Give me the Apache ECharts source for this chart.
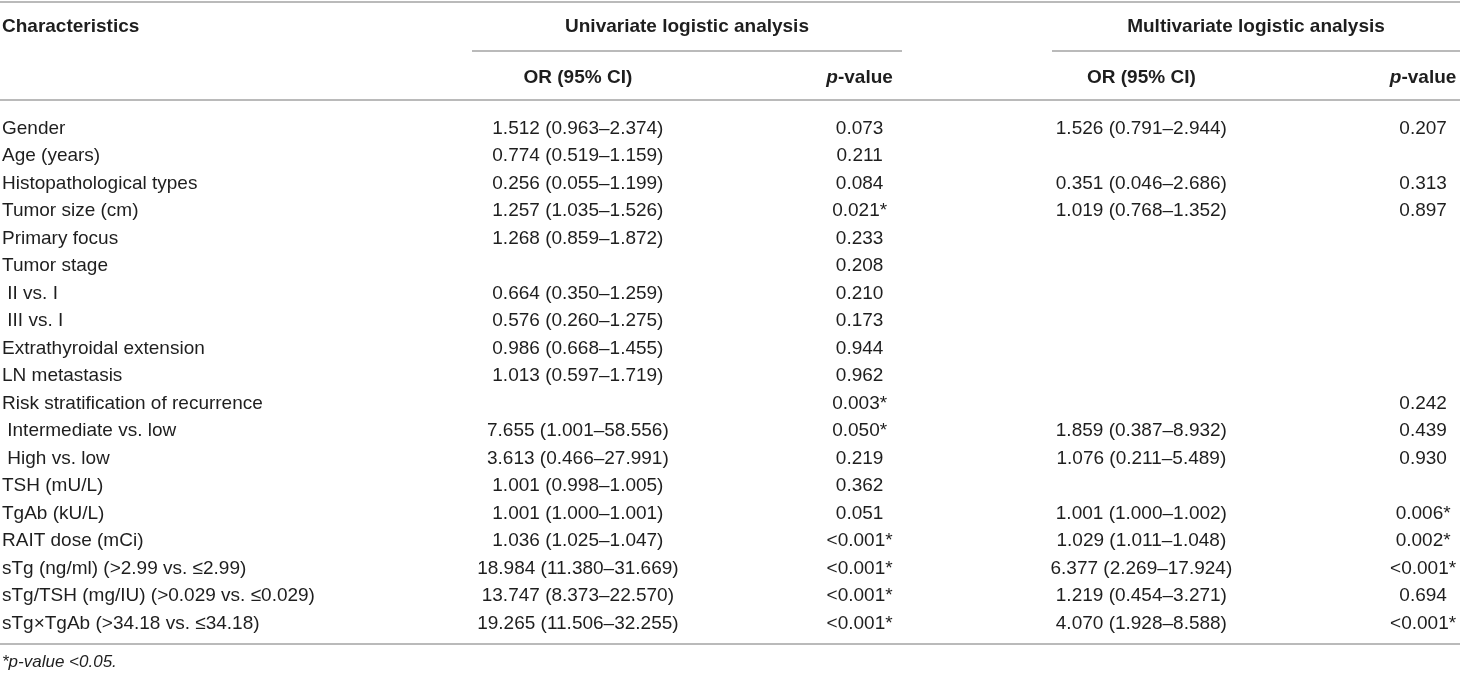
<!DOCTYPE html>
<html>
<head>
<meta charset="utf-8">
<script src="https://cdn.jsdelivr.net/npm/echarts@6/dist/echarts.min.js"></script>
<style>
  html, body { margin: 0; padding: 0; background: #fff; }
  #chart { width: 1460px; height: 675px; }
</style>
</head>
<body>
<div id="chart"></div>
<script>
// table content
const characteristics = [
  'Gender', 'Age (years)', 'Histopathological types', 'Tumor size (cm)', 'Primary focus',
  'Tumor stage', ' II vs. I', ' III vs. I', 'Extrathyroidal extension', 'LN metastasis',
  'Risk stratification of recurrence', ' Intermediate vs. low', ' High vs. low', 'TSH (mU/L)',
  'TgAb (kU/L)', 'RAIT dose (mCi)', 'sTg (ng/ml) (>2.99 vs. \u22642.99)',
  'sTg/TSH (mg/IU) (>0.029 vs. \u22640.029)', 'sTg\u00d7TgAb (>34.18 vs. \u226434.18)'
];
const uniOR = [
  '1.512 (0.963\u20132.374)', '0.774 (0.519\u20131.159)', '0.256 (0.055\u20131.199)', '1.257 (1.035\u20131.526)',
  '1.268 (0.859\u20131.872)', '', '0.664 (0.350\u20131.259)', '0.576 (0.260\u20131.275)',
  '0.986 (0.668\u20131.455)', '1.013 (0.597\u20131.719)', '', '7.655 (1.001\u201358.556)',
  '3.613 (0.466\u201327.991)', '1.001 (0.998\u20131.005)', '1.001 (1.000\u20131.001)', '1.036 (1.025\u20131.047)',
  '18.984 (11.380\u201331.669)', '13.747 (8.373\u201322.570)', '19.265 (11.506\u201332.255)'
];
const uniP = [
  '0.073', '0.211', '0.084', '0.021*', '0.233', '0.208', '0.210', '0.173', '0.944', '0.962',
  '0.003*', '0.050*', '0.219', '0.362', '0.051', '<0.001*', '<0.001*', '<0.001*', '<0.001*'
];
const multiOR = [
  '1.526 (0.791\u20132.944)', '', '0.351 (0.046\u20132.686)', '1.019 (0.768\u20131.352)', '',
  '', '', '', '', '', '', '1.859 (0.387\u20138.932)', '1.076 (0.211\u20135.489)', '',
  '1.001 (1.000\u20131.002)', '1.029 (1.011\u20131.048)', '6.377 (2.269\u201317.924)',
  '1.219 (0.454\u20133.271)', '4.070 (1.928\u20138.588)'
];
const multiP = [
  '0.207', '', '0.313', '0.897', '', '', '', '', '', '', '0.242', '0.439', '0.930', '',
  '0.006*', '0.002*', '<0.001*', '0.694', '<0.001*'
];
const subHeaders = ['OR (95% CI)', 'p-value', 'OR (95% CI) ', 'p-value '];
const groupHeaders = ['Univariate logistic analysis', 'Multivariate logistic analysis'];
const firstHeader = 'Characteristics';
const footnote = '*p-value <0.05.';

const FONT = '"Liberation Sans", Arial, Helvetica, sans-serif';
const TEXT = '#1e1e1e';
const RULE = '#a3a3a3';

const columns = [uniOR, uniP, multiOR, multiP];

function cellSeries(col, ci) {
  const data = [];
  col.forEach((txt, ri) => {
    if (txt !== '') data.push([subHeaders[ci], characteristics[ri], txt]);
  });
  return {
    type: 'scatter',
    silent: true,
    symbolSize: 1,
    itemStyle: { color: 'rgba(0,0,0,0)', opacity: 1 },
    label: {
      show: true,
      position: 'inside',
      formatter: p => p.data[2],
      color: TEXT,
      fontSize: 19,
      fontFamily: FONT
    },
    data: data
  };
}

const chart = echarts.init(document.getElementById('chart'));

const option = {
  animation: false,
  backgroundColor: '#fff',
  // grid runs past the right edge so the four column bands land where the table's columns are
  grid: {
    left: 437, width: 1127, top: 114.75, height: 522.5,
    containLabel: false,
    outerBoundsMode: 'none'
  },
  xAxis: {
    type: 'category',
    position: 'top',
    data: subHeaders,
    axisLine: { show: false },
    axisTick: { show: false },
    splitLine: { show: false },
    axisLabel: {
      margin: 27,
      interval: 0,
      formatter: v => v.trim() === 'p-value' ? '{i|p}{b|-value}' : '{b|' + v.trim() + '}',
      rich: {
        i: { fontStyle: 'italic', fontWeight: 'bold', fontSize: 19, fontFamily: FONT, color: TEXT },
        b: { fontWeight: 'bold', fontSize: 19, fontFamily: FONT, color: TEXT }
      }
    }
  },
  yAxis: {
    type: 'category',
    inverse: true,
    data: characteristics,
    axisLine: { show: false },
    axisTick: { show: false },
    splitLine: { show: false },
    axisLabel: {
      align: 'left',
      margin: 435,
      interval: 0,
      color: TEXT,
      fontSize: 19,
      fontFamily: FONT
    }
  },
  series: columns.map(cellSeries),
  graphic: [
    // rules
    { type: 'line', shape: { x1: 0, y1: 2, x2: 1460, y2: 2 }, style: { stroke: RULE, lineWidth: 1.5 } },
    { type: 'line', shape: { x1: 472, y1: 51, x2: 902, y2: 51 }, style: { stroke: RULE, lineWidth: 1.5 } },
    { type: 'line', shape: { x1: 1052, y1: 51, x2: 1460, y2: 51 }, style: { stroke: RULE, lineWidth: 1.5 } },
    { type: 'line', shape: { x1: 0, y1: 100, x2: 1460, y2: 100 }, style: { stroke: RULE, lineWidth: 1.5 } },
    { type: 'line', shape: { x1: 0, y1: 644, x2: 1460, y2: 644 }, style: { stroke: RULE, lineWidth: 1.5 } },
    // header text
    { type: 'text', x: 2, y: 27, style: { text: firstHeader, font: 'bold 19px ' + FONT, fill: TEXT, textAlign: 'left', textVerticalAlign: 'middle' } },
    { type: 'text', x: 687, y: 27, style: { text: groupHeaders[0], font: 'bold 19px ' + FONT, fill: TEXT, textAlign: 'center', textVerticalAlign: 'middle' } },
    { type: 'text', x: 1256, y: 27, style: { text: groupHeaders[1], font: 'bold 19px ' + FONT, fill: TEXT, textAlign: 'center', textVerticalAlign: 'middle' } },
    // footnote
    { type: 'text', x: 2, y: 662, style: { text: footnote, font: 'italic 17px ' + FONT, fill: TEXT, textAlign: 'left', textVerticalAlign: 'middle' } }
  ]
};

chart.setOption(option);
</script>
</body>
</html>
